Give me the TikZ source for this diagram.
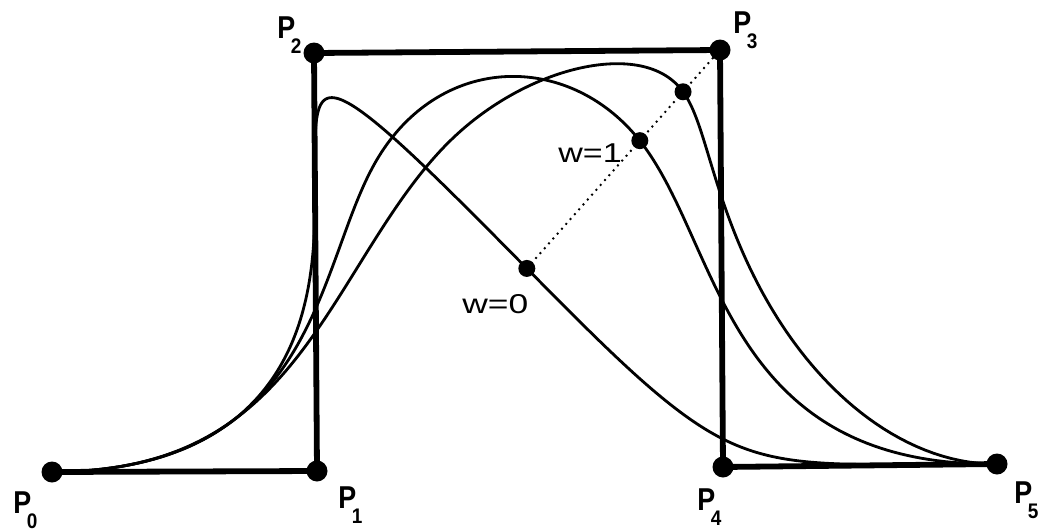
\documentclass[tikz,border=0pt]{standalone}
\usepackage{fontspec}
\setmainfont{Liberation Sans}
\usepackage{graphicx}
\newcommand{\mylabP}[1]{\scalebox{0.85}[1]{\fontsize{18}{18}\selectfont\bfseries P}\kern-2.5pt\raisebox{-9pt}{\scalebox{0.9}[1]{\fontsize{12}{12}\selectfont\bfseries #1}}}
\begin{document}
\begin{tikzpicture}[x=0.02cm,y=-0.02cm,
  poly/.style={line width=3.3pt, line cap=round, line join=miter},
  curve/.style={line width=1.6pt, line join=round},
  dotline/.style={line width=1.1pt, dash pattern=on 1.1pt off 2.6pt},
  cdot/.style={circle, fill=black, inner sep=0pt, minimum size=0.42cm},
  wdot/.style={circle, fill=black, inner sep=0pt, minimum size=0.34cm},
  plab/.style={inner sep=0pt, anchor=base west},
  wlab/.style={inner sep=0pt, anchor=base west, font=\fontsize{15.5}{16}\selectfont},
]
\useasboundingbox (0,0) rectangle (1038,531);
\def\Xa{52}\def\Ya{472}
\def\Xb{317}\def\Yb{471}
\def\Xc{314}\def\Yc{53}
\def\Xd{720}\def\Yd{50}
\def\Xe{723}\def\Ye{467}
\def\Xf{997}\def\Yf{464}
\def\ka{0.305}\def\kb{0.628}
\coordinate (P0) at (\Xa,\Ya);
\coordinate (P1) at (\Xb,\Yb);
\coordinate (P2) at (\Xc,\Yc);
\coordinate (P3) at (\Xd,\Yd);
\coordinate (P4) at (\Xe,\Ye);
\coordinate (P5) at (\Xf,\Yf);
% control polygon
\draw[poly] (P0) -- (P1) -- (P2) -- (P3) -- (P4) -- (P5);
% NURBS curves (cubic, knots 0,0,0,0,a,b,1,1,1,1), weight of P3 = 0, 1, 3
\gdef\CA{}\gdef\CB{}\gdef\CC{}
\foreach \i in {0,...,240}{
  \pgfmathsetmacro\tv{\i/240}
  \pgfmathsetmacro\Ith{\tv<\ka}
  \pgfmathsetmacro\Ifi{1-(\tv<\kb)}
  \pgfmathsetmacro\Ifo{1-\Ith-\Ifi}
  \pgfmathsetmacro\Bta{(\ka-\tv)/\ka*\Ith}
  \pgfmathsetmacro\Btb{\tv/\ka*\Ith+(\kb-\tv)/(\kb-\ka)*\Ifo}
  \pgfmathsetmacro\Btc{(\tv-\ka)/(\kb-\ka)*\Ifo+(1-\tv)/(1-\kb)*\Ifi}
  \pgfmathsetmacro\Btd{(\tv-\kb)/(1-\kb)*\Ifi}
  \pgfmathsetmacro\Cb{(\ka-\tv)/\ka*\Bta}
  \pgfmathsetmacro\Cc{\tv/\ka*\Bta+(\kb-\tv)/\kb*\Btb}
  \pgfmathsetmacro\Cd{\tv/\kb*\Btb+(1-\tv)/(1-\ka)*\Btc}
  \pgfmathsetmacro\Ce{(\tv-\ka)/(1-\ka)*\Btc+(1-\tv)/(1-\kb)*\Btd}
  \pgfmathsetmacro\Cf{(\tv-\kb)/(1-\kb)*\Btd}
  \pgfmathsetmacro\Na{(\ka-\tv)/\ka*\Cb}
  \pgfmathsetmacro\Nb{\tv/\ka*\Cb+(\kb-\tv)/\kb*\Cc}
  \pgfmathsetmacro\Nc{\tv/\kb*\Cc+(1-\tv)*\Cd}
  \pgfmathsetmacro\Nd{\tv*\Cd+(1-\tv)/(1-\ka)*\Ce}
  \pgfmathsetmacro\Ne{(\tv-\ka)/(1-\ka)*\Ce+(1-\tv)/(1-\kb)*\Cf}
  \pgfmathsetmacro\Nf{(\tv-\kb)/(1-\kb)*\Cf}
  \pgfmathsetmacro\Sx{\Na*\Xa+\Nb*\Xb+\Nc*\Xc+\Ne*\Xe+\Nf*\Xf}
  \pgfmathsetmacro\Sy{\Na*\Ya+\Nb*\Yb+\Nc*\Yc+\Ne*\Ye+\Nf*\Yf}
  \pgfmathsetmacro\Sw{\Na+\Nb+\Nc+\Ne+\Nf}
  \pgfmathsetmacro\xA{\Sx/\Sw}
  \pgfmathsetmacro\yA{\Sy/\Sw}
  \pgfmathsetmacro\xB{(\Sx+\Nd*\Xd)/(\Sw+\Nd)}
  \pgfmathsetmacro\yB{(\Sy+\Nd*\Yd)/(\Sw+\Nd)}
  \pgfmathsetmacro\xC{(\Sx+3*\Nd*\Xd)/(\Sw+3*\Nd)}
  \pgfmathsetmacro\yC{(\Sy+3*\Nd*\Yd)/(\Sw+3*\Nd)}
  \xdef\CA{\CA(\xA,\yA)}
  \xdef\CB{\CB(\xB,\yB)}
  \xdef\CC{\CC(\xC,\yC)}
}
\edef\tmp{\noexpand\draw[curve] plot coordinates {\CA};}\tmp
\edef\tmp{\noexpand\draw[curve] plot coordinates {\CB};}\tmp
\edef\tmp{\noexpand\draw[curve] plot coordinates {\CC};}\tmp
% points at parameter t=b for weights 0, 1, 3
\pgfmathsetmacro\mNc{(1-\kb)^2/(1-\ka)}
\pgfmathsetmacro\mNe{(\kb-\ka)^2/(1-\ka)^2}
\pgfmathsetmacro\mNd{1-\mNc-\mNe}
\pgfmathsetmacro\mxa{(\mNc*\Xc+\mNe*\Xe)/(\mNc+\mNe)}
\pgfmathsetmacro\mya{(\mNc*\Yc+\mNe*\Ye)/(\mNc+\mNe)}
\pgfmathsetmacro\mxb{\mNc*\Xc+\mNd*\Xd+\mNe*\Xe}
\pgfmathsetmacro\myb{\mNc*\Yc+\mNd*\Yd+\mNe*\Ye}
\pgfmathsetmacro\mxc{(\mNc*\Xc+3*\mNd*\Xd+\mNe*\Xe)/(\mNc+3*\mNd+\mNe)}
\pgfmathsetmacro\myc{(\mNc*\Yc+3*\mNd*\Yd+\mNe*\Ye)/(\mNc+3*\mNd+\mNe)}
\coordinate (W0) at (\mxa,\mya);
\coordinate (W1) at (\mxb,\myb);
\coordinate (W3) at (\mxc,\myc);
\draw[dotline] (W0) -- (P3);
% dots
\node[cdot] (n0) at (P0) {};
\node[cdot] (n1) at (P1) {};
\node[cdot] (n2) at (P2) {};
\node[cdot] (n3) at (P3) {};
\node[cdot] (n4) at (P4) {};
\node[cdot] (n5) at (P5) {};
\node[wdot] (m0) at (W0) {};
\node[wdot] (m1) at (W1) {};
\node[wdot] (m3) at (W3) {};
% labels
\node[plab] (L0) at (13,513) {\mylabP{0}};
\node[plab] (L1) at (338,508) {\mylabP{1}};
\node[plab] (L2) at (277,38) {\mylabP{2}};
\node[plab] (L3) at (733,33) {\mylabP{3}};
\node[plab] (L4) at (697,510) {\mylabP{4}};
\node[plab] (L5) at (1014,503) {\mylabP{5}};
\node[wlab] (T0) at (462,313) {\scalebox{1.3}[1]{w=0}};
\node[wlab] (T1) at (558,162) {\scalebox{1.25}[1]{w=1}};
\end{tikzpicture}
\end{document}
